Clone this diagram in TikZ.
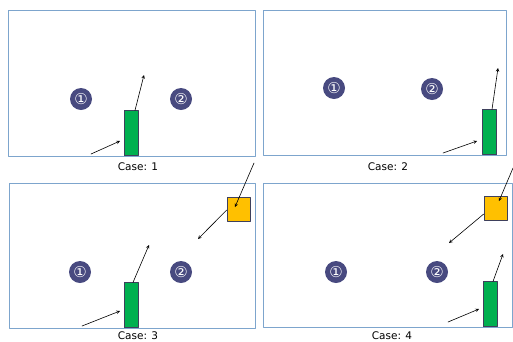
\documentclass[tikz,border=0pt]{standalone}
\usepackage{fontspec}
\setmainfont{DejaVu Sans}
\definecolor{framecol}{RGB}{125,165,205}
\definecolor{discol}{RGB}{72,74,128}
\definecolor{carcol}{RGB}{0,176,80}
\definecolor{boxcol}{RGB}{255,192,0}
\definecolor{edgecol}{RGB}{62,64,92}
\begin{document}
\begin{tikzpicture}[x=1pt, y=-1pt, font=\fontsize{10.5}{12}\selectfont, line join=round, line cap=round, >=stealth,
		frame/.style={draw=framecol, line width=0.8pt},
		spot/.style={circle, fill=discol, minimum size=22pt, inner sep=0pt, text=white, font=\fontsize{15}{15}\selectfont},
		car/.style={draw=edgecol, fill=carcol, line width=0.6pt, minimum width=14pt, minimum height=45pt, inner sep=0pt, anchor=south},
		obst/.style={draw=edgecol, fill=boxcol, line width=0.6pt, minimum width=23pt, minimum height=24pt, inner sep=0pt},
		move/.style={->, line width=0.6pt}]
				\useasboundingbox[fill=white] (0,0) rectangle (513,341);
				% Case 1
				\draw[frame] (8,10) rectangle (255,156);
				\node[spot] (a1) at (81,99) {①};
				\node[spot] (b1) at (181,99) {②};
				\node[car] (car1) at (131,156) {};
				\coordinate (in1) at (91,154);
				\coordinate (hit1) at (120,141);
				\coordinate (out1) at (144,75);
				\draw[move] (in1)--(hit1);
				\draw[move] ([xshift=4pt]car1.north)--(out1);
				\node (cap1) at (138,167) {Case: 1};
				% Case 2
				\draw[frame] (263,10) rectangle (506,155);
				\node[spot] (a2) at (334,88) {①};
				\node[spot] (b2) at (432,89) {②};
				\node[car] (car2) at (489.5,155) {};
				\coordinate (in2) at (443,153);
				\coordinate (hit2) at (477,141);
				\coordinate (out2) at (498,68);
				\draw[move] (in2)--(hit2);
				\draw[move] ([xshift=2.5pt]car2.north)--(out2);
				\node (cap2) at (388,167) {Case: 2};
				% Case 3
				\draw[frame] (9,183) rectangle (255,328);
				\node[spot] (a3) at (80,272) {①};
				\node[spot] (b3) at (181,272) {②};
				\node[car] (car3) at (131,328) {};
				\node[obst] (box3) at (238.5,209) {};
				\coordinate (in3) at (82,326);
				\coordinate (hit3) at (120,311);
				\coordinate (out3) at (149,245);
				\coordinate (src3) at (254,163);
				\coordinate (hitb3) at (235,207);
				\coordinate (outb3) at (198,239);
				\draw[move] (in3)--(hit3);
				\draw[move] ([xshift=2pt]car3.north)--(out3);
				\draw[move] (src3)--(hitb3);
				\draw[move] ([yshift=-1pt]box3.west)--(outb3);
				\node (cap3) at (138,336) {Case: 3};
				% Case 4
				\draw[frame] (263,183) rectangle (512,327);
				\node[spot] (a4) at (336,272) {①};
				\node[spot] (b4) at (437,272) {②};
				\node[car] (car4) at (490,327) {};
				\node[obst] (box4) at (495.5,208) {};
				\coordinate (in4) at (448,322);
				\coordinate (hit4) at (479,309);
				\coordinate (out4) at (503,254);
				\coordinate (src4) at (513,168);
				\coordinate (hitb4) at (499,201);
				\coordinate (outb4) at (449,243);
				\draw[move] (in4)--(hit4);
				\draw[move] ([xshift=3pt]car4.north)--(out4);
				\draw[move] (src4)--(hitb4);
				\draw[move] ([yshift=-6pt]box4.west)--(outb4);
				\node (cap4) at (392,336) {Case: 4};
			\end{tikzpicture}
\end{document}
